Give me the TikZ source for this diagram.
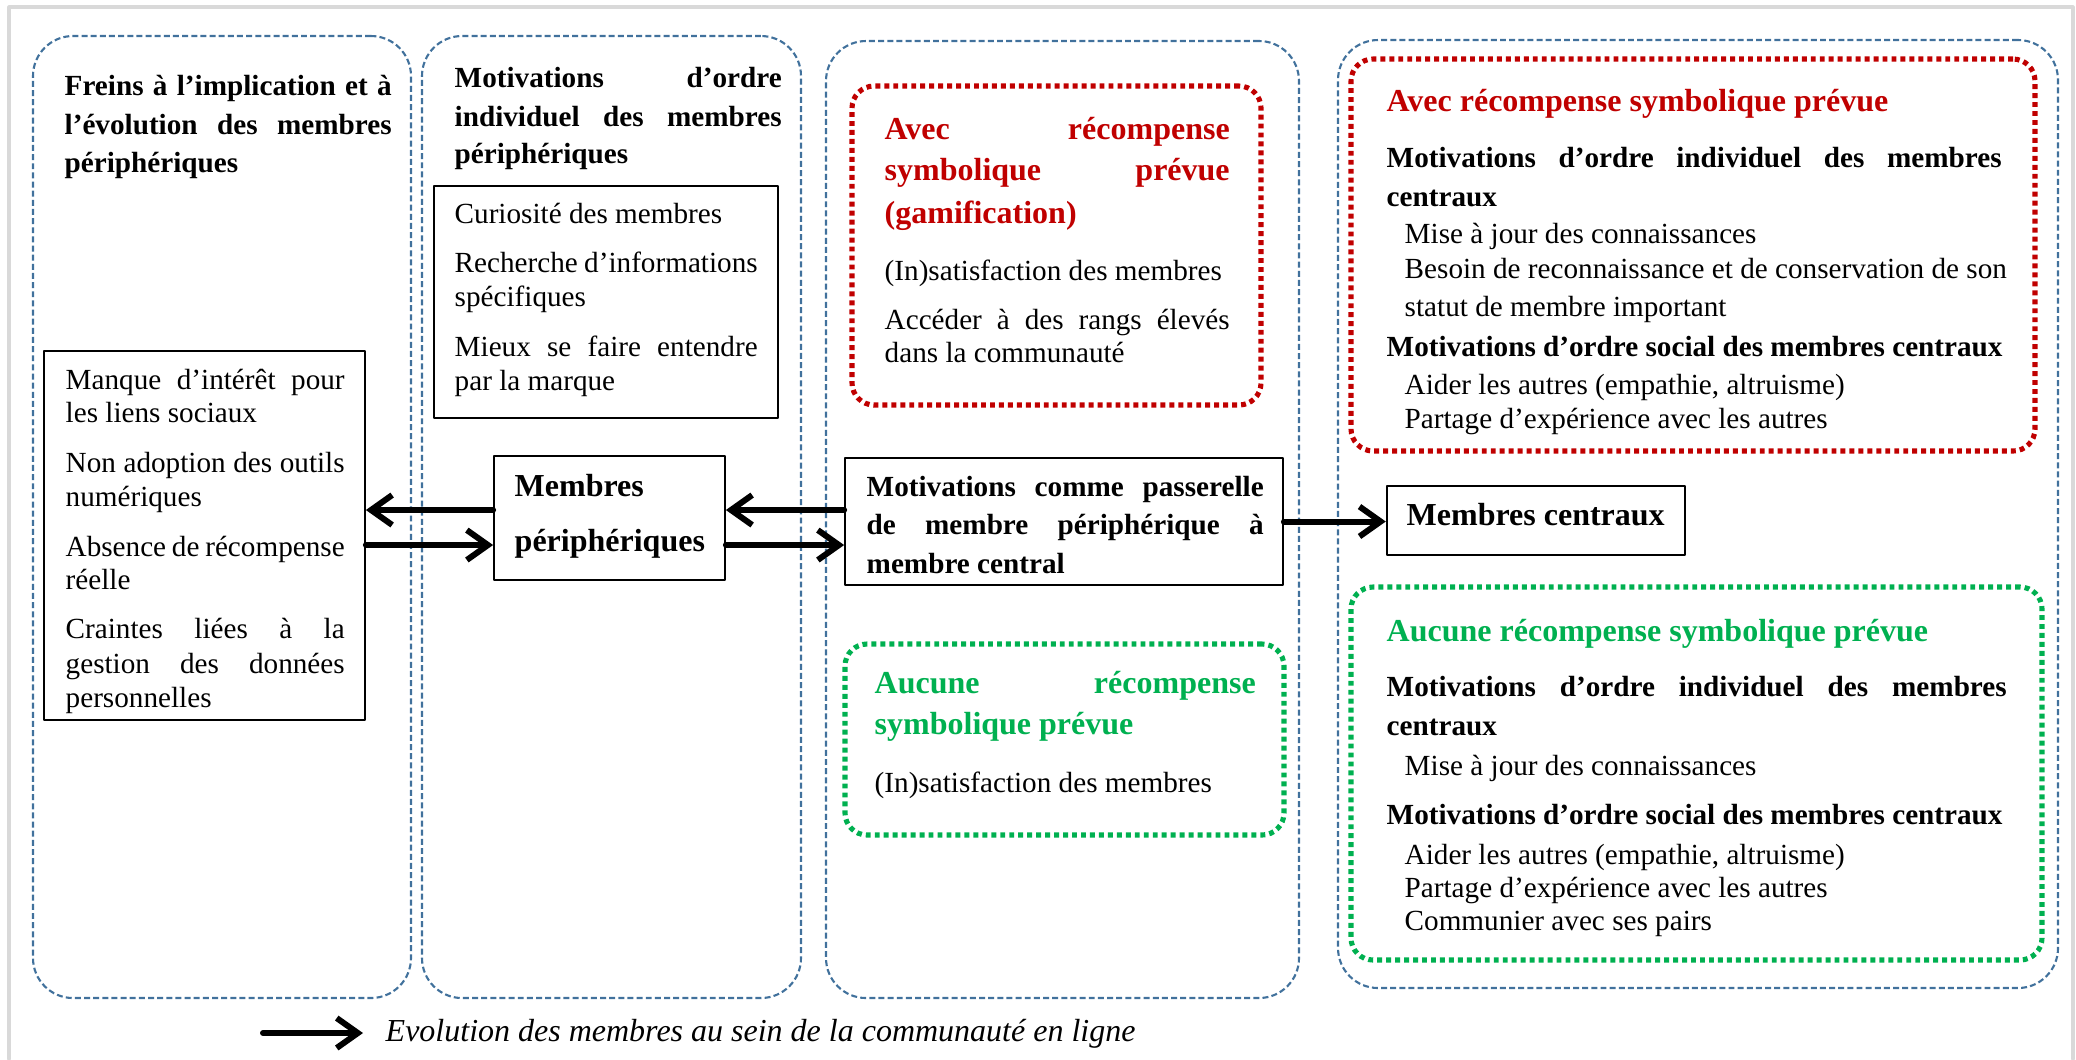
\documentclass[tikz,border=0pt]{standalone}
\usepackage{fontspec}
\setmainfont{Liberation Serif}
\usetikzlibrary{arrows.meta,fit}

\definecolor{panelblue}{HTML}{41719C}
\definecolor{prizered}{HTML}{C00000}
\definecolor{nogreen}{HTML}{00B050}

\newlength\pxu
\setlength\pxu{0.01cm}
% justified line of a given width (in px)
\newcommand\jl[2]{\makebox[#1\pxu][s]{#2}}
\newcommand\smallsz{\fontsize{8.3}{10}\selectfont}
\newcommand\largesz{\fontsize{9.1}{11}\selectfont}

\tikzset{
  panel/.style={draw=panelblue,line width=.6pt,line cap=butt,dash pattern=on 1.7pt off .9pt,rounded corners=.4cm,inner sep=0pt},
  prize/.style={draw=#1,line width=1.45pt,line cap=butt,dash pattern=on 1.4pt off 1.15pt,rounded corners=.22cm,inner sep=0pt},
  solidbox/.style={draw=black,line width=.5pt,inner sep=0pt},
  txt/.style={anchor=base west,inner sep=0pt,font=\smallsz},
  btxt/.style={txt,font=\smallsz\bfseries},
  ltxt/.style={txt,font=\largesz\bfseries},
  flow/.style={line width=1.7pt,-{Straight Barb[length=6pt,width=8.5pt]}},
}

\begin{document}
\begin{tikzpicture}[x=0.01cm,y=-0.01cm,line cap=round,line join=round]
\path[use as bounding box] (0,0) rectangle (2076,1059);
\draw[black!15,line width=.9pt] (9,1059) -- (9,7) -- (2073,7) -- (2073,1059);

% columns
\node[panel,fit={(33,36) (411,998)}] (pfreins) {};
\node[panel,fit={(422,36) (801,998)}] (pperiph) {};
\node[panel,fit={(826,41) (1299,998)}] (ppass) {};
\node[panel,fit={(1338,40) (2058,988)}] (pcentre) {};

% column 1
\foreach \yy/\txt [count=\i] in {95/{\jl{327}{Freins à l’implication et à}},
    134/{\jl{327}{l’évolution des membres}}, 172/{périphériques}}
  \node[btxt] (tfr\i) at (64,\yy) {\txt};
\node[solidbox,fit={(44,351) (365,720)}] (obst) {};
\foreach \yy/\txt [count=\i] in {389/{\jl{279}{Manque d’intérêt pour}},
    422/{les liens sociaux}, 472/{\jl{279}{Non adoption des outils}},
    506/{numériques}, 556/{\jl{279}{Absence de récompense}}, 589/{réelle},
    638/{\jl{279}{Craintes liées à la}}, 673/{\jl{279}{gestion des données}},
    707/{personnelles}}
  \node[txt] (tob\i) at (65,\yy) {\txt};

% column 2
\foreach \yy/\txt [count=\i] in {87/{\jl{327}{Motivations d’ordre}},
    126/{\jl{327}{individuel des membres}}, 163/{périphériques}}
  \node[btxt] (tmi\i) at (454,\yy) {\txt};
\node[solidbox,fit={(434,186) (778,418)}] (indiv) {};
\foreach \yy/\txt [count=\i] in {223/{Curiosité des membres},
    272/{\jl{303}{Recherche d’informations}}, 306/{spécifiques},
    356/{\jl{303}{Mieux se faire entendre}}, 390/{par la marque}}
  \node[txt] (tin\i) at (454,\yy) {\txt};
\node[solidbox,fit={(494,456) (725,580)}] (periph) {};
\node[ltxt] (tpe1) at (514,496) {Membres};
\node[ltxt] (tpe2) at (514,551) {périphériques};

% column 3
\node[prize=prizered,fit={(852,86) (1261,405)}] (gamif) {};
\foreach \yy/\txt [count=\i] in {139/{\jl{345}{Avec récompense}},
    180/{\jl{345}{symbolique prévue}}, 223/{(gamification)}}
  \node[ltxt,text=prizered] (tga\i) at (884,\yy) {\txt};
\foreach \yy/\txt [count=\i] in {280/{(In)satisfaction des membres},
    329/{\jl{345}{Accéder à des rangs élevés}}, 362/{dans la communauté}}
  \node[txt] (tgb\i) at (884,\yy) {\txt};
\node[solidbox,fit={(845,458) (1283,585)}] (pass) {};
\foreach \yy/\txt [count=\i] in {496/{\jl{397}{Motivations comme passerelle}},
    534/{\jl{397}{de membre périphérique à}}, 573/{membre central}}
  \node[btxt] (tpa\i) at (866,\yy) {\txt};
\node[prize=nogreen,fit={(845,644) (1284,835)}] (nogamif) {};
\node[ltxt,text=nogreen] (tng1) at (874,693) {\jl{381}{Aucune récompense}};
\node[ltxt,text=nogreen] (tng2) at (874,734) {symbolique prévue};
\node[txt] (tng3) at (874,792) {(In)satisfaction des membres};

% column 4
\node[prize=prizered,fit={(1351,59) (2035,451)}] (cprize) {};
\node[ltxt,text=prizered] (tcp0) at (1386,111) {Avec récompense symbolique prévue};
\node[btxt] (tcp1) at (1386,167) {\jl{615}{Motivations d’ordre individuel des membres}};
\node[btxt] (tcp2) at (1386,206) {centraux};
\node[btxt] (tcp3) at (1386,356) {Motivations d’ordre social des membres centraux};
\foreach \yy/\txt [count=\i] in {243/{Mise à jour des connaissances},
    278/{Besoin de reconnaissance et de conservation de son},
    316/{statut de membre important},
    394/{Aider les autres (empathie, altruisme)},
    428/{Partage d’expérience avec les autres}}
  \node[txt] (tcq\i) at (1404,\yy) {\txt};
\node[solidbox,line width=.7pt,fit={(1387,486) (1685,555)}] (centraux) {};
\node[ltxt] (tce) at (1406,525) {Membres centraux};
\node[prize=nogreen,fit={(1351,587) (2042,960)}] (cnoprize) {};
\node[ltxt,text=nogreen] (tcn0) at (1386,641) {Aucune récompense symbolique prévue};
\node[btxt] (tcn1) at (1386,696) {\jl{620}{Motivations d’ordre individuel des membres}};
\node[btxt] (tcn2) at (1386,735) {centraux};
\node[btxt] (tcn3) at (1386,824) {Motivations d’ordre social des membres centraux};
\foreach \yy/\txt [count=\i] in {775/{Mise à jour des connaissances},
    864/{Aider les autres (empathie, altruisme)},
    897/{Partage d’expérience avec les autres},
    930/{Communier avec ses pairs}}
  \node[txt] (tco\i) at (1404,\yy) {\txt};

% arrows
\draw[flow] ([yshift=.08cm]periph.west) -- ([yshift=.08cm]periph.west -| obst.east);
\draw[flow] ([yshift=-.27cm]periph.west -| obst.east) -- ([yshift=-.27cm]periph.west);
\draw[flow] ([yshift=.08cm]periph.east -| pass.west) -- ([yshift=.08cm]periph.east);
\draw[flow] ([yshift=-.27cm]periph.east) -- ([yshift=-.27cm]periph.east -| pass.west);
\draw[flow] (pass.east) -- (pass.east -| centraux.west);

% legend
\coordinate (lga) at (263,1033);
\coordinate (lgb) at (363,1033);
\draw[flow] (lga) -- (lgb);
\node[txt,font=\largesz\itshape] (legend) at (385,1041) {Evolution des membres au sein de la communauté en ligne};
\end{tikzpicture}
\end{document}
